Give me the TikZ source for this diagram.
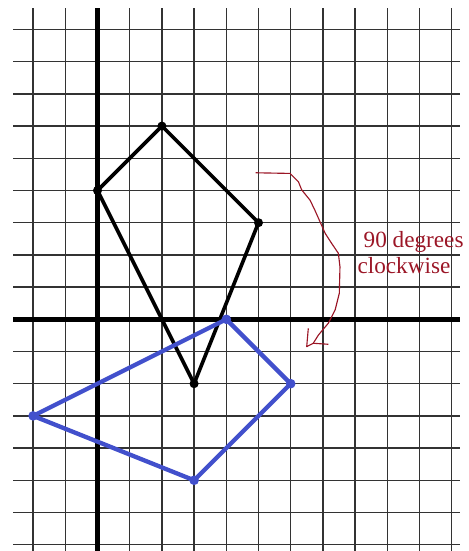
\documentclass[tikz,border=0pt]{standalone}
\usepackage{fontspec}
\setmainfont{Liberation Serif}
\newfontfamily\notefont{Liberation Serif}
\definecolor{rotblue}{RGB}{66,80,204}
\definecolor{notered}{RGB}{155,22,38}

\begin{document}
\begin{tikzpicture}[
                    x=1cm, y=1cm,
                    gridline/.style={draw=black!80, line width=1.3pt},
                    axisline/.style={draw=black, line width=4.3pt},
                    kite/.style={draw=black, line width=3.2pt, line join=round},
                    rotated/.style={draw=rotblue, line width=3.8pt, line join=round},
                    kitedot/.style={circle, fill=black, inner sep=0pt, minimum size=8pt},
                    rotdot/.style={circle, fill=rotblue, inner sep=0pt, minimum size=8.5pt},
                    note/.style={text=notered, inner sep=0pt, anchor=base west, font=\notefont\fontsize{20.5}{23}\selectfont},
                    scribble/.style={draw=notered, line width=1pt, line join=round}
                ]

                \useasboundingbox (-3.028,-7.196) rectangle (11.537,9.916);

                % Grille et axes
                \foreach \x in {-2,...,11}
                    \draw[gridline] (\x,9.66) -- (\x,-7.196);
                \foreach \y in {-7,...,9}
                    \draw[gridline] (-2.61,\y) -- (11.26,\y);
                \draw[axisline] (0,9.66) -- (0,-7.196);
                \draw[axisline] (-2.61,0) -- (11.26,0);

                % Figure de départ
                \coordinate (K1) at (0,4);
                \coordinate (K2) at (2,6);
                \coordinate (K3) at (5,3);
                \coordinate (K4) at (3,-2);
                \draw[kite] (K1) -- (K2) -- (K3) -- (K4) -- cycle;
                \foreach \p in {K1,K2,K3,K4}
                    \node[kitedot] at (\p) {};

                % Image par la rotation
                \coordinate (R1) at (4,0);
                \coordinate (R2) at (6,-2);
                \coordinate (R3) at (3,-5);
                \coordinate (R4) at (-2,-3);
                \draw[rotated] (R1) -- (R2) -- (R3) -- (R4) -- cycle;
                \foreach \p in {R1,R2,R3,R4}
                    \node[rotdot] at (\p) {};

                % Flèche à main levée
                \coordinate (start) at (4.91,4.55);
                \coordinate (tip) at (6.497,-0.85);
                \draw[scribble] (start) -- (5.98,4.53) -- (6.24,4.27) -- (6.34,4.02) -- (6.60,3.70)
                    -- (6.75,3.39) -- (6.91,3.03) -- (7.07,2.67) -- (7.27,2.36) -- (7.48,2.05)
                    -- (7.53,1.63) -- (7.51,0.81) -- (7.38,0.29) -- (7.17,-0.12) -- (6.86,-0.49)
                    -- (6.70,-0.745);
                \draw[scribble] (6.547,-0.28) -- (tip) -- (6.70,-0.745) -- (7.17,-0.776);

                \node[note] (angle) at (8.26,2.214) {90 degrees};
                \node[note] (sense) at (8.07,1.407) {clockwise};

                \end{tikzpicture}
\end{document}
